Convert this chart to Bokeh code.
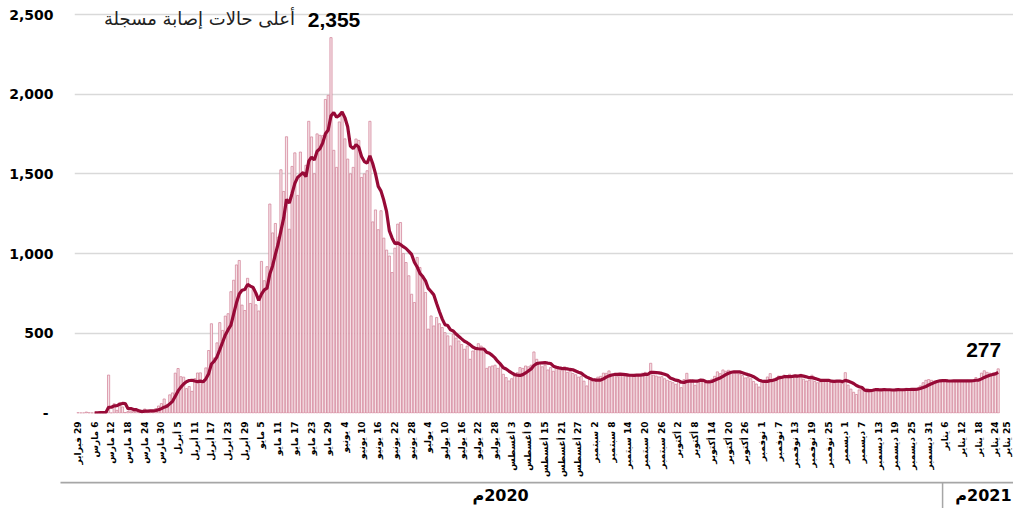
import math
import numpy as np
import pandas as pd
from bokeh.plotting import figure
from bokeh.layouts import column
from bokeh.models import Range1d, FixedTicker, NumeralTickFormatter
from bokeh.core.properties import value
from bokeh.embed import file_html
from bokeh.resources import INLINE

# ---------------- data (daily new cases, 29 Feb 2020 -> 25 Jan 2021) ----------------
start_date = "2020-02-29"
cases_feb_mar = [1, 0, 0, 6, 1, 0, 0, 3, 3, 3, 6, 238, 0, 58, 17, 64, 38, 3, 10, 8, 10,
                 11, 13, 7, 25, 11, 12, 13, 28, 44, 59, 88]
cases_apr = [54, 114, 126, 250, 279, 228, 225, 153, 166, 136, 216, 251, 252, 197, 283,
             392, 560, 345, 440, 567, 518, 608, 623, 761, 833, 929, 957, 677, 643, 845]
cases_may = [687, 776, 679, 640, 951, 830, 918, 1311, 1130, 1189, 1103, 1526, 1390, 1733,
             1153, 1547, 1632, 1365, 1637, 1491, 1554, 1830, 1732, 1501, 1751, 1742, 1740,
             1967, 1993, 2355, 1648]
cases_jun = [1541, 1826, 1890, 1720, 1593, 1500, 1541, 1719, 1710, 1478, 1500, 1520, 1830,
             1199, 1274, 1150, 1269, 1097, 1022, 985, 881, 1034, 1185, 1195, 1000, 944, 861,
             745, 693, 976]
cases_jul = [913, 861, 756, 526, 609, 546, 599, 560, 536, 504, 484, 421, 494, 470, 452, 430,
             400, 420, 337, 389, 410, 435, 420, 400, 280, 290, 295, 300, 280, 300, 243]
cases_aug = [222, 201, 215, 230, 253, 285, 280, 295, 290, 300, 383, 337, 310, 290, 300, 270,
             285, 262, 295, 280, 268, 290, 255, 262, 248, 240, 225, 230, 200, 170, 210]
cases_sep = [198, 215, 225, 230, 250, 249, 264, 235, 240, 228, 245, 238, 232, 244, 230, 239,
             236, 242, 250, 255, 248, 312, 238, 232, 226, 228, 215, 205, 198, 190]
cases_oct = [180, 203, 159, 210, 249, 210, 196, 174, 205, 200, 198, 190, 203, 212, 230, 258,
             247, 270, 262, 268, 255, 250, 255, 245, 235, 220, 225, 215, 198, 182, 163]
cases_nov = [200, 205, 226, 247, 212, 218, 232, 222, 238, 230, 243, 228, 237, 225, 243, 212,
             200, 205, 237, 198, 190, 195, 210, 200, 205, 198, 190, 204, 196, 186]
cases_dec = [253, 175, 150, 130, 116, 145, 150, 140, 152, 148, 150, 146, 138, 145, 152, 143,
             147, 140, 150, 148, 142, 150, 155, 148, 150, 148, 155, 170, 190, 205, 210]
cases_jan = [205, 200, 203, 201, 199, 203, 202, 198, 204, 200, 203, 199, 201, 205, 203, 205,
             222, 212, 250, 265, 255, 250, 240, 248, 277]

daily_cases = (cases_feb_mar + cases_apr + cases_may + cases_jun + cases_jul + cases_aug
               + cases_sep + cases_oct + cases_nov + cases_dec + cases_jan)
days = list(range(len(daily_cases)))

tick_days = list(range(0, 331, 6)) + [331]
tick_labels = ["29 فبراير", "6 مارس", "12 مارس", "18 مارس", "24 مارس", "30 مارس",
               "5 أبريل", "11 أبريل", "17 أبريل", "23 أبريل", "29 أبريل",
               "5 مايو", "11 مايو", "17 مايو", "23 مايو", "29 مايو",
               "4 يونيو", "10 يونيو", "16 يونيو", "22 يونيو", "28 يونيو",
               "4 يوليو", "10 يوليو", "16 يوليو", "22 يوليو", "28 يوليو",
               "3 أغسطس", "9 أغسطس", "15 أغسطس", "21 أغسطس", "27 أغسطس",
               "2 سبتمبر", "8 سبتمبر", "14 سبتمبر", "20 سبتمبر", "26 سبتمبر",
               "2 أكتوبر", "8 أكتوبر", "14 أكتوبر", "20 أكتوبر", "26 أكتوبر",
               "1 نوفمبر", "7 نوفمبر", "13 نوفمبر", "19 نوفمبر", "25 نوفمبر",
               "1 ديسمبر", "7 ديسمبر", "13 ديسمبر", "19 ديسمبر", "25 ديسمبر", "31 ديسمبر",
               "6 يناير", "12 يناير", "18 يناير", "24 يناير", "25 يناير"]
y_ticks = [0, 500, 1000, 1500, 2000, 2500]
peak_note = "أعلى حالات إصابة مسجلة"
year_labels = ["2020م", "2021م"]

# 7-day moving average of the daily series (as drawn in the chart)
avg7 = pd.Series(daily_cases, dtype=float).rolling(7).mean().tolist()

# ---------------- layout / style ----------------
LRM = "\u200e"
BORDER_L = 74
FRAME_W = 939
FRAME_H = 413
AXIS_H = 68
STRIP_H = 27
X0 = -1.26
PX_PER_DAY = 2.78
X1 = X0 + FRAME_W / PX_PER_DAY
PX_PER_CASE = 0.1594
Y1 = 2500 + 14 / PX_PER_CASE
Y0 = Y1 - FRAME_H / PX_PER_CASE
TOTAL_W = BORDER_L + FRAME_W

BAR_FILL = "#f6e2e7"
BAR_LINE = "#d3849a"
LINE_COL = "#970a37"

p = figure(frame_width=FRAME_W, frame_height=FRAME_H,
           x_range=Range1d(X0, X1), y_range=Range1d(Y0, Y1),
           output_backend="svg", toolbar_location=None, title=None,
           min_border_left=BORDER_L, min_border_right=0, min_border_top=0,
           min_border_bottom=AXIS_H)
p.outline_line_color = None
p.background_fill_color = "white"

p.vbar(x=days, top=daily_cases, bottom=0, width=0.78,
       fill_color=BAR_FILL, line_color=BAR_LINE, line_width=0.75)
p.line(days, avg7, line_color=LINE_COL, line_width=3.2)

# x axis: vertical date labels (number on top, as in the reference)
def disp_label(s):
    num, month = s.split(" ", 1)
    return f"{month}{LRM} {num}"

tick_pos = tick_days[:-1] + [tick_days[-1] + 3.3]   # last label nudged right as in the original
p.xaxis.ticker = FixedTicker(ticks=tick_pos)
p.xaxis.major_label_overrides = {t: disp_label(l) for t, l in zip(tick_pos, tick_labels)}
p.xaxis.major_label_orientation = math.pi / 2
p.xaxis.major_label_standoff = 8
p.xaxis.axis_line_color = None
p.xaxis.major_tick_line_color = None
p.xaxis.minor_tick_line_color = None
p.xaxis.major_label_text_font = "DejaVu Sans"
p.xaxis.major_label_text_font_style = "bold"
p.xaxis.major_label_text_font_size = "9px"
p.xaxis.major_label_text_color = "black"
p.xgrid.visible = False

p.yaxis.ticker = FixedTicker(ticks=y_ticks)
p.yaxis.formatter = NumeralTickFormatter(format="0,0")
p.yaxis.major_label_overrides = {0: "-\u00a0"}
p.yaxis.axis_line_color = None
p.yaxis.major_tick_line_color = None
p.yaxis.minor_tick_line_color = None
p.yaxis.major_label_standoff = 21
p.yaxis.major_label_text_font = "DejaVu Sans"
p.yaxis.major_label_text_font_style = "bold"
p.yaxis.major_label_text_font_size = "14px"
p.yaxis.major_label_text_color = "black"
for ax in (p.xaxis, p.yaxis):
    ax.major_tick_out = 0
    ax.major_tick_in = 0
    ax.minor_tick_out = 0
    ax.minor_tick_in = 0
p.ygrid.ticker = FixedTicker(ticks=y_ticks[1:])
p.ygrid.grid_line_color = "#d9d9d9"
p.ygrid.grid_line_width = 1.5
p.ygrid.bounds = (-0.9, 331.8)

# annotations
peak_i = int(np.argmax(daily_cases))
peak_v = daily_cases[peak_i]
last_i = len(daily_cases) - 1
last_v = daily_cases[last_i]
p.text(x=[peak_i], y=[peak_v], text=[f"{peak_v:,}"], text_align="center",
       text_baseline="alphabetic", x_offset=3, y_offset=-18,
       text_font=value("Liberation Sans"), text_font_style="bold",
       text_font_size="21px", text_color="black")
p.text(x=[peak_i], y=[peak_v], text=[peak_note], text_align="right",
       text_baseline="alphabetic", x_offset=-36, y_offset=-19,
       text_font=value("DejaVu Sans"), text_font_size="18px", text_color="#222222")
p.text(x=[last_i], y=[last_v], text=[f"{last_v:,}"], text_align="right",
       text_baseline="alphabetic", x_offset=3, y_offset=-19,
       text_font=value("Liberation Sans"), text_font_style="bold",
       text_font_size="21px", text_color="black")

# year strip below the date labels (own frame, not aligned to the chart frame)
P2X0 = X0 - BORDER_L / PX_PER_DAY
p2 = figure(frame_width=TOTAL_W, frame_height=STRIP_H,
            x_range=Range1d(P2X0, X1), y_range=Range1d(0, STRIP_H),
            output_backend="svg", toolbar_location=None, title=None,
            x_axis_location=None, y_axis_location=None, min_border=0)
for fig in (p, p2):
    try:
        fig.frame_align = False
    except Exception:
        pass
p2.outline_line_color = None
p2.grid.visible = False
p2.line(x=[-6.3, X1], y=[STRIP_H - 1, STRIP_H - 1], line_color="#a6a6a6", line_width=2)
p2.line(x=[311, 311], y=[0, STRIP_H - 1], line_color="#a6a6a6", line_width=1.5)

def disp_year(s):
    return "م" + LRM + s[:-1]

p2.text(x=[152, 325.7], y=[STRIP_H - 14, STRIP_H - 14], text=[disp_year(s) for s in year_labels],
        text_align="center", text_baseline="middle",
        text_font=value("DejaVu Sans"), text_font_style="bold",
        text_font_size="16px", text_color="black")

layout = column(p, p2)
open("out.html", "w").write(file_html(layout, INLINE))
